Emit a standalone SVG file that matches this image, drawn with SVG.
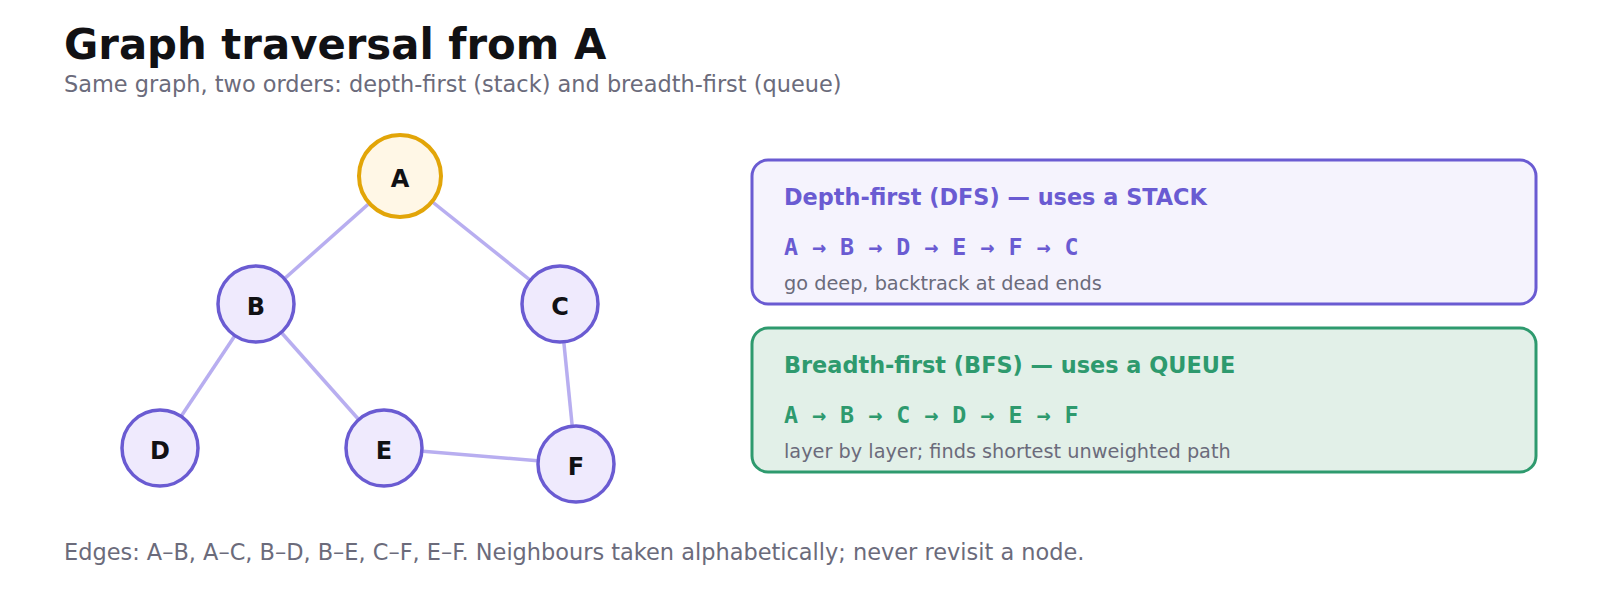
<svg xmlns="http://www.w3.org/2000/svg" width="1600" height="608" viewBox="0 0 1600 608">
<style>
.title{font-family:"DejaVu Sans",sans-serif;font-weight:bold;font-size:41.8px;fill:#111114}
.sub{font-family:"DejaVu Sans",sans-serif;font-size:22.45px;fill:#6b6b7b}
.edge{stroke:#b8aef0;stroke-width:3.5;fill:none}
.node circle{fill:#efeafd;stroke:#6a5bd2;stroke-width:3.5}
.node text{font-family:"DejaVu Sans",sans-serif;font-weight:bold;font-size:24px;fill:#111114;text-anchor:middle}
.start circle{fill:#fff7e6;stroke:#e2a508;stroke-width:4}
.bt{font-family:"DejaVu Sans",sans-serif;font-weight:bold;font-size:22.4px}
.seq{font-family:"DejaVu Sans Mono",monospace;font-weight:bold;font-size:23.3px}
.note{font-family:"DejaVu Sans",sans-serif;font-size:19.3px;fill:#6b6b7b}
</style>
<rect width="1600" height="608" fill="#ffffff"/>
<text class="title" x="64" y="59">Graph traversal from A</text>
<text class="sub" x="64" y="92">Same graph, two orders: depth-first (stack) and breadth-first (queue)</text>
<g id="edges">
<line class="edge" x1="400" y1="176" x2="256" y2="304"/>
<line class="edge" x1="400" y1="176" x2="560" y2="304"/>
<line class="edge" x1="256" y1="304" x2="160" y2="448"/>
<line class="edge" x1="256" y1="304" x2="384" y2="448"/>
<line class="edge" x1="560" y1="304" x2="576" y2="464"/>
<line class="edge" x1="384" y1="448" x2="576" y2="464"/>
</g>
<g id="node-A" class="node start"><circle cx="400" cy="176" r="41"/><text x="400" y="187">A</text></g>
<g id="node-B" class="node"><circle cx="256" cy="304" r="38"/><text x="256" y="315">B</text></g>
<g id="node-C" class="node"><circle cx="560" cy="304" r="38"/><text x="560" y="315">C</text></g>
<g id="node-D" class="node"><circle cx="160" cy="448" r="38"/><text x="160" y="459">D</text></g>
<g id="node-E" class="node"><circle cx="384" cy="448" r="38"/><text x="384" y="459">E</text></g>
<g id="node-F" class="node"><circle cx="576" cy="464" r="38"/><text x="576" y="475">F</text></g>
<g id="dfs">
<rect x="752" y="160" width="784" height="144" rx="16" fill="#f5f3fd" stroke="#6a5bd2" stroke-width="3"/>
<text class="bt" x="784" y="205" fill="#6a5bd2">Depth-first (DFS) — uses a STACK</text>
<text class="seq" x="784" y="255" fill="#6a5bd2">A → B → D → E → F → C</text>
<text class="note" x="784" y="290">go deep, backtrack at dead ends</text>
</g>
<g id="bfs">
<rect x="752" y="328" width="784" height="144" rx="16" fill="#e2f0e8" stroke="#2e9a6e" stroke-width="3"/>
<text class="bt" x="784" y="373" fill="#2e9a6e">Breadth-first (BFS) — uses a QUEUE</text>
<text class="seq" x="784" y="423" fill="#2e9a6e">A → B → C → D → E → F</text>
<text class="note" x="784" y="458">layer by layer; finds shortest unweighted path</text>
</g>
<text class="sub" x="64" y="560">Edges: A–B, A–C, B–D, B–E, C–F, E–F. Neighbours taken alphabetically; never revisit a node.</text>
</svg>
